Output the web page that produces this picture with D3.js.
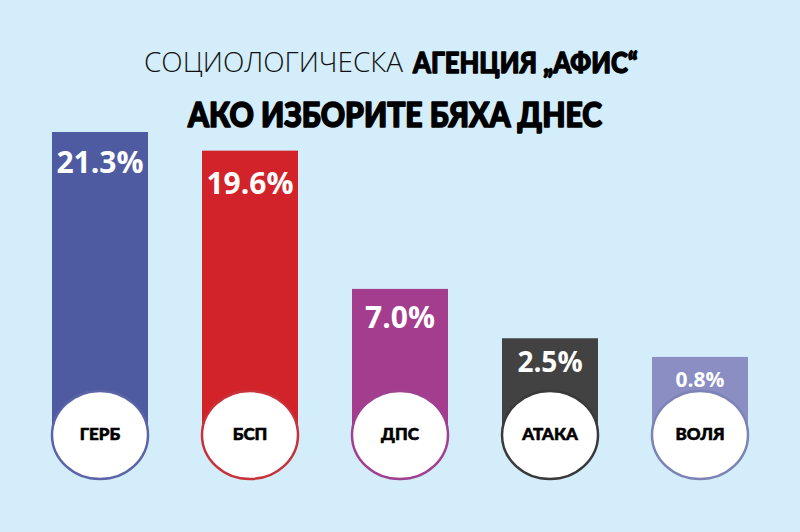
<!DOCTYPE html>
<html><head><meta charset="utf-8">
<script src="https://cdn.jsdelivr.net/npm/d3@7"></script>
<style>html,body{margin:0;padding:0;background:#d3edfa;}svg{display:block}</style>
</head><body>
<script>
const parties = ["ГЕРБ","БСП","ДПС","АТАКА","ВОЛЯ"];
const values = [21.3,19.6,7.0,2.5,0.8];
const labels = ["21.3%","19.6%","7.0%","2.5%","0.8%"];
const colors = ["#4f5ba0","#d2232a","#a43d8d","#424242","#8a8ec2"];
const strokes = ["#5a64a6","#c8323a","#a04090","#3a3a3a","#7d83b4"];
const titleLight = "СОЦИОЛОГИЧЕСКА";
const titleBold = "АГЕНЦИЯ „АФИС“";
const title2 = "АКО ИЗБОРИТЕ БЯХА ДНЕС";

const W=800,H=532;
const svg=d3.select("body").append("svg").attr("width",W).attr("height",H);
svg.append("rect").attr("width",W).attr("height",H).attr("fill","#d3edfa");

const x=d3.scaleBand().domain(parties).range([25,775]).paddingInner(0.36).paddingOuter(0.18);
const y=d3.scaleLinear().domain([0,21.3]).range([365.7,132]);
const cy=435, rx=48, ry=44;

// title
svg.append("text").attr("x",144).attr("y",72).attr("textLength",259).attr("lengthAdjust","spacingAndGlyphs")
  .attr("font-family","'Open Sans',sans-serif").attr("font-weight",300).attr("font-size",27).attr("fill","#111").text(titleLight);
svg.append("text").attr("x",413).attr("y",73).attr("textLength",225).attr("lengthAdjust","spacingAndGlyphs")
  .attr("font-family","Lato,'DejaVu Sans',sans-serif").attr("font-weight",900).attr("font-size",29)
  .attr("fill","#000").attr("stroke","#000").attr("stroke-width",1.3).attr("stroke-linejoin","round").text(titleBold);
svg.append("text").attr("x",188).attr("y",127).attr("textLength",414).attr("lengthAdjust","spacingAndGlyphs")
  .attr("font-family","Lato,'DejaVu Sans',sans-serif").attr("font-weight",900).attr("font-size",34)
  .attr("fill","#000").attr("stroke","#000").attr("stroke-width",1.6).attr("stroke-linejoin","round").text(title2);

const g=svg.append("g");
const data=parties.map((p,i)=>({p,v:values[i],l:labels[i],c:colors[i],s:strokes[i],i}));
const bw=x.bandwidth();

g.selectAll("rect.bar").data(data).join("rect").attr("class","bar")
  .attr("x",d=>x(d.p)).attr("width",bw)
  .attr("y",d=>y(d.v)).attr("height",d=>cy-y(d.v)).attr("fill",d=>d.c);

const fs=[30,30,30,28,21], off=[41,43,39,34,30];
g.selectAll("text.val").data(data).join("text").attr("class","val")
  .attr("x",d=>x(d.p)+bw/2).attr("y",d=>y(d.v)+off[d.i])
  .attr("text-anchor","middle").attr("font-family","'Open Sans',sans-serif").attr("font-weight",700)
  .attr("font-size",d=>fs[d.i]).attr("fill","#fff").text(d=>d.l);

g.selectAll("ellipse").data(data).join("ellipse")
  .attr("cx",d=>x(d.p)+bw/2).attr("cy",cy).attr("rx",rx).attr("ry",ry)
  .attr("fill","#fff").attr("stroke",d=>d.s).attr("stroke-width",2.5);

g.selectAll("text.name").data(data).join("text").attr("class","name")
  .attr("x",d=>x(d.p)+bw/2).attr("y",cy+5)
  .attr("text-anchor","middle").attr("font-family","Lato,'Open Sans',sans-serif").attr("font-weight",900)
  .attr("font-size",17).attr("fill","#000").attr("stroke","#000").attr("stroke-width",0.6).text(d=>d.p);
</script>
</body></html>
